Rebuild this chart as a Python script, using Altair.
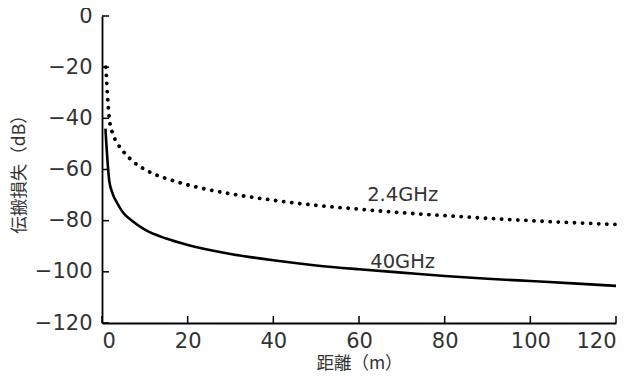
import altair as alt
import pandas as pd

# distance (m)
dist = [0.8, 1.7, 2.5, 3.5, 5, 7, 10, 15, 20, 30, 40, 50, 60, 70, 80, 90, 100, 110, 120]
loss_40 = [-44, -64.5, -69.5, -73, -77, -80, -83.5, -87, -89.5, -93, -95.5, -97.5, -99,
           -100.3, -101.6, -102.7, -103.6, -104.5, -105.5]
dist_24 = [0.9, 1.7, 2.5, 3.5, 5, 7, 10, 15, 20, 30, 40, 50, 60, 70, 80, 90, 100, 110, 120]
loss_24 = [-20, -40, -46, -49.5, -53, -56.5, -60, -63.5, -66, -69.5, -72, -74, -75.5,
           -76.9, -78, -79.1, -80, -80.8, -81.5]

label_text = ["2.4GHz", "40GHz"]
label_x = [70.2, 70.2]
label_y = [-70, -96]

x_ticks = [0, 20, 40, 60, 80, 100, 120]
y_ticks = [0, -20, -40, -60, -80, -100, -120]

CJK = "Noto Sans CJK JP"
NUM = "DejaVu Sans"

df40 = pd.DataFrame({"d": dist, "loss": loss_40})
df24 = pd.DataFrame({"d": dist_24, "loss": loss_24})
dlab = pd.DataFrame({"t": label_text, "x": label_x, "y": label_y})
dxt = pd.DataFrame({"v": x_ticks})
dyt = pd.DataFrame({"v": y_ticks})

xs = alt.Scale(domain=[0, 120], nice=False, zero=False)
ys = alt.Scale(domain=[-120, 0], nice=False, zero=False)

xax = alt.Axis(values=x_ticks, title="距離（m）", grid=False, ticks=False,
               labelPadding=7, titlePadding=3, format="d")
yax = alt.Axis(values=y_ticks, title="伝搬損失（dB）", grid=False, ticks=False,
               labelPadding=10, titlePadding=6,
               labelExpr="datum.value < 0 ? '\u2212' + abs(datum.value) : '' + datum.value")

solid = alt.Chart(df40).mark_line(color="black", strokeWidth=2.6, interpolate="monotone").encode(
    x=alt.X("d:Q", scale=xs, axis=xax),
    y=alt.Y("loss:Q", scale=ys, axis=yax),
)
dotted = alt.Chart(df24).mark_line(color="black", strokeWidth=3.8, strokeCap="round",
                                   strokeDash=[0.1, 8], interpolate="monotone").encode(
    x=alt.X("d:Q", scale=xs),
    y=alt.Y("loss:Q", scale=ys),
)
labels = alt.Chart(dlab).mark_text(font=NUM, fontSize=19.5, color="#333",
                                   align="center", baseline="middle").encode(
    x=alt.X("x:Q", scale=xs),
    y=alt.Y("y:Q", scale=ys),
    text="t:N",
)
xticks = alt.Chart(dxt).mark_rule(color="black", strokeWidth=1.5).encode(
    x=alt.X("v:Q", scale=xs),
    y=alt.value(307),
    y2=alt.value(300),
)
yticks = alt.Chart(dyt).mark_rule(color="black", strokeWidth=1.5).encode(
    y=alt.Y("v:Q", scale=ys),
    x=alt.value(0),
    x2=alt.value(7),
)

chart = (dotted + solid + labels + xticks + yticks).properties(
    width=514, height=307,
    autosize=alt.AutoSizeParams(type="none"),
    padding={"left": 94, "top": 8, "right": 15, "bottom": 50},
).configure_view(stroke=None).configure_axis(
    domainColor="black", domainWidth=1.8,
    labelFont=NUM, labelFontSize=21, labelColor="#333",
    titleFont=CJK, titleFontSize=17.5, titleColor="#333", titleFontWeight="normal",
)

chart.save("out.html", embed_options={"renderer": "svg", "actions": False})
